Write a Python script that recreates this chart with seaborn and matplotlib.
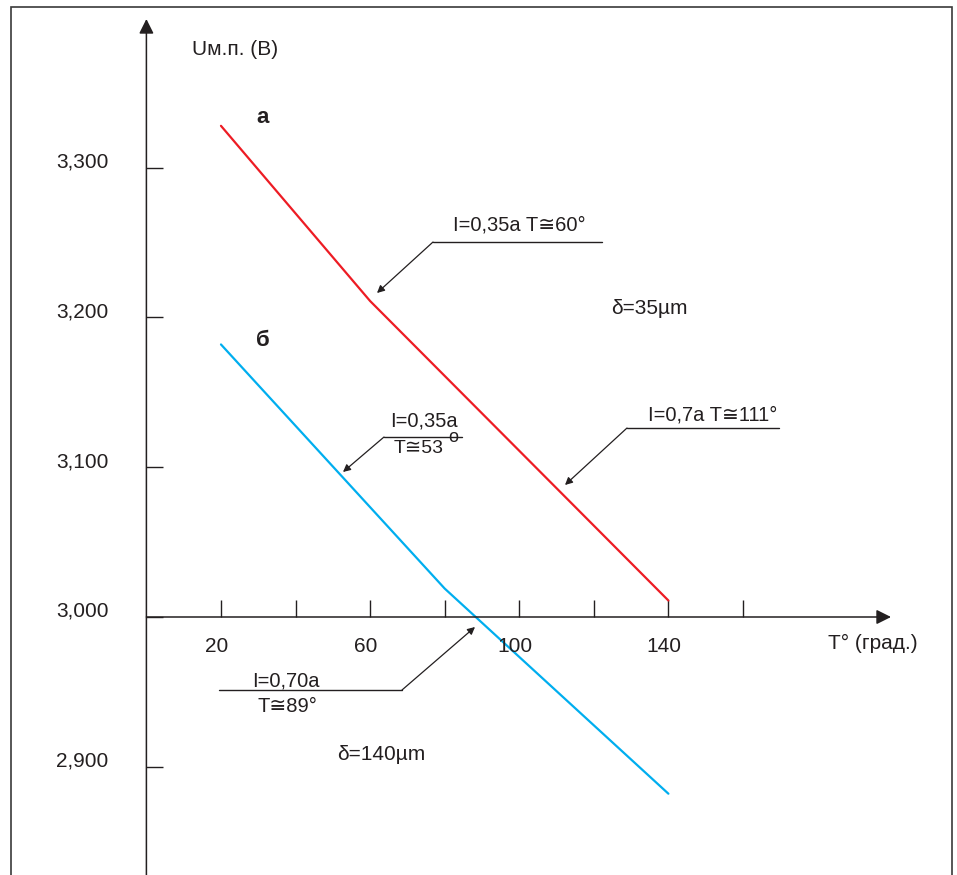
import numpy as np
import pandas as pd
import seaborn as sns
import matplotlib
matplotlib.use("Agg")
import matplotlib.pyplot as plt
from matplotlib.patches import Rectangle

# --- data
t_a = [20, 60, 140]
u_a = [3.328, 3.211, 3.011]
t_b = [20, 80, 140]
u_b = [3.182, 3.019, 2.882]

x_ticks = [20, 40, 60, 80, 100, 120, 140, 160]
x_labels = {20: "20", 60: "60", 100: "100", 140: "140"}
y_ticks = [2.9, 3.0, 3.1, 3.2, 3.3]
y_labels = ["2,900", "3,000", "3,100", "3,200", "3,300"]

df = pd.DataFrame({
    "T": t_a + t_b,
    "U": u_a + u_b,
    "curve": ["а"] * len(t_a) + ["б"] * len(t_b),
})

sns.set_style("white")
plt.rcParams["font.family"] = ["Liberation Sans", "DejaVu Sans"]
INK = "#231f20"
FS = 15
FS_NOTE = 14.5

W, H = 957, 875
fig = plt.figure(figsize=(W / 100, H / 100), dpi=100)
ax = fig.add_axes([0, 0, 1, 1])


# pixel -> data helpers (only used to place text / leaders)
def tx(x):
    return (x - 146.4) / 3.7286


def uy(y):
    return 3.0 + (617 - y) / 1497.5


ax.set_xlim(tx(0), tx(W))
ax.set_ylim(uy(H), uy(0))

sns.lineplot(data=df, x="T", y="U", hue="curve", palette=["#ed1c24", "#00aeef"],
             sort=False, estimator=None, legend=False, lw=1.6, ax=ax)
ax.set_xlabel("")
ax.set_ylabel("")

# axes through the origin (0 ; 3,000)
for s in ax.spines.values():
    s.set_visible(False)
ax.spines["left"].set_position(("data", 0))
ax.spines["bottom"].set_position(("data", 3.0))
ax.set_xticks(x_ticks)
ax.set_yticks(y_ticks)
ax.tick_params(direction="in", length=12, width=1.0, color=INK,
               left=True, bottom=True, labelleft=False, labelbottom=False)

arrow_kw = dict(arrowstyle="-|>", color=INK, lw=1.1, mutation_scale=22,
                shrinkA=0, shrinkB=0)
ax.annotate("", xy=(0, uy(19)), xytext=(0, uy(H + 5)), arrowprops=arrow_kw)
ax.annotate("", xy=(tx(891), 3.0), xytext=(0, 3.0), arrowprops=arrow_kw)

for t in x_ticks:
    if t in x_labels:
        ax.annotate(x_labels[t], xy=(t, 3.0), xytext=(-3, -21.5), textcoords="offset points",
                    ha="center", va="center", fontsize=FS, color=INK)
for u, lab in zip(y_ticks, y_labels):
    ax.annotate(lab, xy=(0, u), xytext=(-46, 4), textcoords="offset points",
                ha="center", va="center", fontsize=FS, color=INK)

ax.text(tx(192), uy(50), "Uм.п. (В)", fontsize=FS, color=INK, va="center")
ax.text(tx(828), uy(643), "T° (град.)", fontsize=FS, color=INK, va="center")
ax.text(tx(263), uy(118), "а", fontsize=16, fontweight="bold", color=INK,
        ha="center", va="center")
ax.text(tx(263), uy(341), "б", fontsize=16, fontweight="bold", color=INK,
        ha="center", va="center")
ax.text(tx(611), uy(309), "δ=35µm", fontsize=FS, color=INK, va="center")
ax.text(tx(337), uy(755), "δ=140µm", fontsize=FS, color=INK, va="center")

# leader lines with arrows
lead_kw = dict(arrowstyle="-|>", color=INK, lw=0.9, mutation_scale=11,
               shrinkA=0, shrinkB=0)


def leader(x1, x2, y, tip, start_x):
    ax.plot([tx(x1), tx(x2)], [uy(y), uy(y)], color=INK, lw=1.0)
    ax.annotate("", xy=(tx(tip[0]), uy(tip[1])), xytext=(tx(start_x), uy(y)),
                arrowprops=lead_kw)


leader(433, 602, 242, (377, 293), 433)
ax.text(tx(453), uy(225), "I=0,35a T≅60°", fontsize=FS_NOTE, color=INK, va="center")

leader(627, 779, 428, (565, 485), 627)
ax.text(tx(648), uy(415), "I=0,7a T≅111°", fontsize=FS_NOTE, color=INK, va="center")

leader(384, 462, 437, (343, 472), 384)
ax.text(tx(390), uy(421), "I=0,35a", fontsize=FS_NOTE, color=INK, va="center")
ax.text(tx(394), uy(449), "T≅53", fontsize=14, color=INK, va="center")
ax.text(tx(453), uy(442), "o", fontsize=13, color=INK, ha="center", va="baseline")

leader(219, 402, 690, (475, 627), 402)
ax.text(tx(252), uy(681), "I=0,70a", fontsize=FS_NOTE, color=INK, va="center")
ax.text(tx(258), uy(707), "T≅89°", fontsize=FS_NOTE, color=INK, va="center")

# outer frame
fig.add_artist(Rectangle((11 / W, -0.02), (952 - 11) / W, (H - 7) / H + 0.02,
                         transform=fig.transFigure, fill=False,
                         edgecolor="#3a3a3a", lw=1.2))

fig.savefig("out.png", dpi=100)
